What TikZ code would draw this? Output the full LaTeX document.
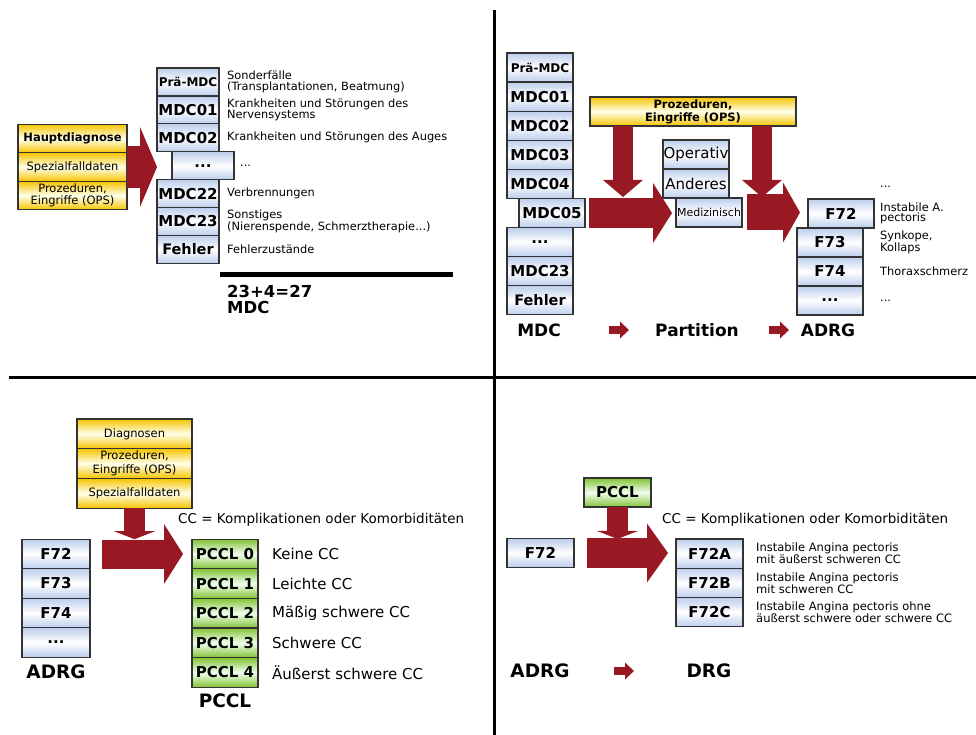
\documentclass[tikz,border=0pt]{standalone}
\usepackage{fontspec}
\setmainfont{DejaVu Sans}
\usepackage{tikz}
\usetikzlibrary{arrows.meta,positioning}
\definecolor{arrowred}{RGB}{152,24,36}
\definecolor{boxblue}{RGB}{188,205,236}
\definecolor{boxgold}{RGB}{246,196,0}
\definecolor{boxgreen}{RGB}{130,194,52}
\newcommand{\boxfont}{\fontsize{15}{15}\selectfont\bfseries}
\newcommand{\smallboxfont}{\fontsize{12}{12}\selectfont\bfseries}
\newcommand{\descfont}{\fontsize{11.4}{10.5}\selectfont}
\newcommand{\labelfont}{\fontsize{17}{15}\selectfont\bfseries}
\newcommand{\biglabelfont}{\fontsize{18.5}{18}\selectfont\bfseries}
\tikzstyle{bluebox}=[rectangle, draw=black!80, line width=1.2pt, outer sep=0pt, inner sep=0pt, align=center, top color=boxblue, bottom color=boxblue, middle color=white, font=\boxfont]
\tikzstyle{goldbox}=[rectangle, draw=black!80, line width=1.2pt, outer sep=0pt, inner sep=0pt, align=center, top color=boxgold, bottom color=boxgold, middle color=yellow!8!white, font=\fontsize{11.5}{13}\selectfont]
\tikzstyle{greenbox}=[rectangle, draw=black!80, line width=1.2pt, outer sep=0pt, inner sep=0pt, align=center, top color=boxgreen, bottom color=boxgreen, middle color=green!6!white, font=\boxfont]
\tikzstyle{desc}=[anchor=west, inner sep=0pt, align=left, font=\descfont]
\tikzstyle{lbl}=[inner sep=0pt, font=\labelfont]
\tikzset{fat/.style n args={3}{draw=arrowred, line width=#1, -{Triangle[width=#2, length=#3, line width=0pt]}}}

\begin{document}
\begin{tikzpicture}[x=1pt, y=-1pt]
\useasboundingbox (0,0) rectangle (976,735);

% quadrant lines
\draw[line width=3pt] (494.5,10) -- (494.5,735);
\draw[line width=3pt] (9,377.5) -- (976,377.5);

%% top left: MDC
\node[goldbox, minimum width=109pt, minimum height=28.5pt, font=\fontsize{11.5}{13}\selectfont\bfseries] (tl-hd) at (72.5,138.5) {Hauptdiagnose};
\node[goldbox, minimum width=109pt, minimum height=28.5pt, below=0pt of tl-hd] (tl-sd) {Spezialfalldaten};
\node[goldbox, minimum width=109pt, minimum height=28.5pt, below=0pt of tl-sd, font=\fontsize{11.5}{12}\selectfont] (tl-ops) {Prozeduren,\\Eingriffe (OPS)};

\node[bluebox, minimum width=62pt, minimum height=27.9pt, font=\smallboxfont] (tl-pre) at (188,82) {Prä-MDC};
\node[bluebox, minimum width=62pt, minimum height=27.9pt, below=0pt of tl-pre] (tl-01) {MDC01};
\node[bluebox, minimum width=62pt, minimum height=27.9pt, below=0pt of tl-01] (tl-02) {MDC02};
\node[bluebox, minimum width=62pt, minimum height=27.9pt, below=0pt of tl-02, xshift=15pt] (tl-dots) {...};
\node[bluebox, minimum width=62pt, minimum height=27.9pt, below=0pt of tl-dots, xshift=-15pt] (tl-22) {MDC22};
\node[bluebox, minimum width=62pt, minimum height=27.9pt, below=0pt of tl-22] (tl-23) {MDC23};
\node[bluebox, minimum width=62pt, minimum height=27.9pt, below=0pt of tl-23, font=\fontsize{14.5}{15}\selectfont\bfseries] (tl-fe) {Fehler};

\node[desc, right=8pt of tl-pre] (tl-tpre) {Sonderfälle\\(Transplantationen, Beatmung)};
\node[desc, right=8pt of tl-01] (tl-t01) {Krankheiten und Störungen des\\Nervensystems};
\node[desc, right=8pt of tl-02] (tl-t02) {Krankheiten und Störungen des Auges};
\node[desc, right=6pt of tl-dots] (tl-tdots) {...};
\node[desc, right=8pt of tl-22] (tl-t22) {Verbrennungen};
\node[desc, right=8pt of tl-23] (tl-t23) {Sonstiges\\(Nierenspende, Schmerztherapie...)};
\node[desc, right=8pt of tl-fe] (tl-tfe) {Fehlerzustände};

\draw[fat={42pt}{80pt}{17pt}] (tl-sd.east) -- (tl-sd.east -| tl-pre.west);

\coordinate (barL) at (220,274);
\draw[line width=5pt] (barL) -- ++(233,0);
\node[anchor=north west, inner sep=0pt, align=left, font=\fontsize{16.5}{16.5}\selectfont\bfseries] (tl-sum) at (227,285) {23+4=27\\MDC};

%% top right: partition
\node[bluebox, minimum width=66pt, minimum height=29.1pt, font=\smallboxfont] (tr-pre) at (540,67.5) {Prä-MDC};
\node[bluebox, minimum width=66pt, minimum height=29.1pt, below=0pt of tr-pre] (tr-01) {MDC01};
\node[bluebox, minimum width=66pt, minimum height=29.1pt, below=0pt of tr-01] (tr-02) {MDC02};
\node[bluebox, minimum width=66pt, minimum height=29.1pt, below=0pt of tr-02] (tr-03) {MDC03};
\node[bluebox, minimum width=66pt, minimum height=29.1pt, below=0pt of tr-03] (tr-04) {MDC04};
\node[bluebox, minimum width=66pt, minimum height=29.1pt, below=0pt of tr-04, xshift=12pt] (tr-05) {MDC05};
\node[bluebox, minimum width=66pt, minimum height=29.1pt, below=0pt of tr-05, xshift=-12pt] (tr-dots) {...};
\node[bluebox, minimum width=66pt, minimum height=29.1pt, below=0pt of tr-dots] (tr-23) {MDC23};
\node[bluebox, minimum width=66pt, minimum height=29.1pt, below=0pt of tr-23, font=\fontsize{14.5}{15}\selectfont\bfseries] (tr-fe) {Fehler};

\node[goldbox, minimum width=206pt, minimum height=29pt, font=\fontsize{11.5}{13}\selectfont\bfseries] (tr-ops) at (693,111.5) {Prozeduren,\\Eingriffe (OPS)};

\node[bluebox, minimum width=66pt, minimum height=29pt, font=\fontsize{15}{15}\selectfont] (tr-op) at (696,154.5) {Operativ};
\node[bluebox, minimum width=66pt, minimum height=29pt, below=0pt of tr-op, font=\fontsize{15}{15}\selectfont] (tr-an) {Anderes};
\node[bluebox, minimum width=66pt, minimum height=29pt, below=0pt of tr-an, xshift=13pt, font=\fontsize{11}{12}\selectfont] (tr-me) {Medizinisch};

\node[bluebox, minimum width=66pt, minimum height=29pt] (tr-f72) at (841,213.5) {F72};
\node[bluebox, minimum width=66pt, minimum height=29pt, below=0pt of tr-f72, xshift=-11pt] (tr-f73) {F73};
\node[bluebox, minimum width=66pt, minimum height=29pt, below=0pt of tr-f73] (tr-f74) {F74};
\node[bluebox, minimum width=66pt, minimum height=29pt, below=0pt of tr-f74] (tr-fdots) {...};

\node[desc] (tr-tup) at (880,187) {...};
\node[desc, right=6pt of tr-f72] (tr-t72) {Instabile A.\\pectoris};
\node[desc, right=17pt of tr-f73] (tr-t73) {Synkope,\\Kollaps};
\node[desc, right=17pt of tr-f74] (tr-t74) {Thoraxschmerz};
\node[desc, right=17pt of tr-fdots] (tr-tdots) {...};

\coordinate (tipA) at (623,197);
\coordinate (tipB) at (762,197);
\draw[fat={20pt}{40pt}{17pt}] (tipA |- tr-ops.south) -- (tipA);
\draw[fat={20pt}{40pt}{17pt}] (tipB |- tr-ops.south) -- (tipB);
\draw[fat={30pt}{60pt}{19pt}, shorten <=4pt, shorten >=4pt] (tr-05.east) -- (tr-05.east -| tr-me.west);
\draw[fat={36pt}{60pt}{17pt}, shorten <=5pt, shorten >=8pt] (tr-me.east) -- (tr-me.east -| tr-f72.west);

\node[lbl] (tr-lmdc) at (539,330) {MDC};
\node[lbl] (tr-lpart) at (697,330) {Partition};
\node[lbl] (tr-ladrg) at (828,330) {ADRG};
\coordinate (sa1) at (609,330);
\coordinate (sa2) at (769,330);
\draw[fat={8pt}{17pt}{9pt}] (sa1) -- ++(20,0);
\draw[fat={8pt}{17pt}{9pt}] (sa2) -- ++(20,0);

%% bottom left: PCCL
\node[goldbox, minimum width=115pt, minimum height=29.7pt] (bl-dg) at (134.5,433.85) {Diagnosen};
\node[goldbox, minimum width=115pt, minimum height=29.7pt, below=0pt of bl-dg, font=\fontsize{11.5}{13.5}\selectfont] (bl-ops) {Prozeduren,\\Eingriffe (OPS)};
\node[goldbox, minimum width=115pt, minimum height=29.7pt, below=0pt of bl-ops] (bl-sd) {Spezialfalldaten};

\node[bluebox, minimum width=68pt, minimum height=29.5pt] (bl-f72) at (56,554) {F72};
\node[bluebox, minimum width=68pt, minimum height=29.5pt, below=0pt of bl-f72] (bl-f73) {F73};
\node[bluebox, minimum width=68pt, minimum height=29.5pt, below=0pt of bl-f73] (bl-f74) {F74};
\node[bluebox, minimum width=68pt, minimum height=29.5pt, below=0pt of bl-f74] (bl-fdots) {...};

\node[greenbox, minimum width=66pt, minimum height=29.6pt] (bl-p0) at (225,554) {PCCL 0};
\node[greenbox, minimum width=66pt, minimum height=29.6pt, below=0pt of bl-p0] (bl-p1) {PCCL 1};
\node[greenbox, minimum width=66pt, minimum height=29.6pt, below=0pt of bl-p1] (bl-p2) {PCCL 2};
\node[greenbox, minimum width=66pt, minimum height=29.6pt, below=0pt of bl-p2] (bl-p3) {PCCL 3};
\node[greenbox, minimum width=66pt, minimum height=29.6pt, below=0pt of bl-p3] (bl-p4) {PCCL 4};

\node[desc, font=\fontsize{15}{15}\selectfont, right=14pt of bl-p0] (bl-t0) {Keine CC};
\node[desc, font=\fontsize{15}{15}\selectfont, right=14pt of bl-p1] (bl-t1) {Leichte CC};
\node[desc, font=\fontsize{15}{15}\selectfont, right=14pt of bl-p2] (bl-t2) {Mäßig schwere CC};
\node[desc, font=\fontsize{15}{15}\selectfont, right=14pt of bl-p3] (bl-t3) {Schwere CC};
\node[desc, font=\fontsize{15}{15}\selectfont, right=14pt of bl-p4] (bl-t4) {Äußerst schwere CC};
\node[desc, font=\fontsize{13.5}{14}\selectfont] (bl-cc) at (178,520) {CC = Komplikationen oder Komorbiditäten};

\draw[fat={21pt}{41pt}{8pt}] (bl-sd.south) -- (bl-sd.south |- bl-p0.north);
\draw[fat={29pt}{60pt}{19pt}, shorten <=12pt, shorten >=9pt] (bl-f72.east) -- (bl-p0.west);

\node[lbl, font=\biglabelfont] (bl-ladrg) at (56,671.5) {ADRG};
\node[lbl, font=\biglabelfont] (bl-lpccl) at (225,701) {PCCL};

%% bottom right: DRG
\node[greenbox, minimum width=67pt, minimum height=29pt] (br-pccl) at (617.5,492.5) {PCCL};
\node[bluebox, minimum width=67pt, minimum height=28.5pt] (br-f72) at (540.5,553) {F72};
\node[bluebox, minimum width=67pt, minimum height=29.3pt] (br-a) at (709.5,553.6) {F72A};
\node[bluebox, minimum width=67pt, minimum height=29.3pt, below=0pt of br-a] (br-b) {F72B};
\node[bluebox, minimum width=67pt, minimum height=29.3pt, below=0pt of br-b] (br-c) {F72C};

\node[desc, font=\fontsize{11.5}{11}\selectfont, right=13pt of br-a] (br-ta) {Instabile Angina pectoris\\mit äußerst schweren CC};
\node[desc, font=\fontsize{11.5}{11}\selectfont, right=13pt of br-b] (br-tb) {Instabile Angina pectoris\\mit schweren CC};
\node[desc, font=\fontsize{11.5}{11}\selectfont, right=13pt of br-c] (br-tc) {Instabile Angina pectoris ohne\\äußerst schwere oder schwere CC};
\node[desc, font=\fontsize{13.5}{14}\selectfont] (br-cc) at (662,520) {CC = Komplikationen oder Komorbiditäten};

\draw[fat={21pt}{41pt}{8pt}] (br-pccl.south) -- (br-pccl.south |- br-a.north);
\draw[fat={30pt}{59pt}{21pt}, shorten <=13pt, shorten >=8pt] (br-f72.east) -- (br-f72.east -| br-a.west);

\node[lbl, font=\biglabelfont] (br-ladrg) at (540,671) {ADRG};
\node[lbl, font=\biglabelfont] (br-ldrg) at (709,671) {DRG};
\coordinate (sa3) at (614,671);
\draw[fat={8pt}{17pt}{9pt}] (sa3) -- ++(20,0);

\end{tikzpicture}
\end{document}
